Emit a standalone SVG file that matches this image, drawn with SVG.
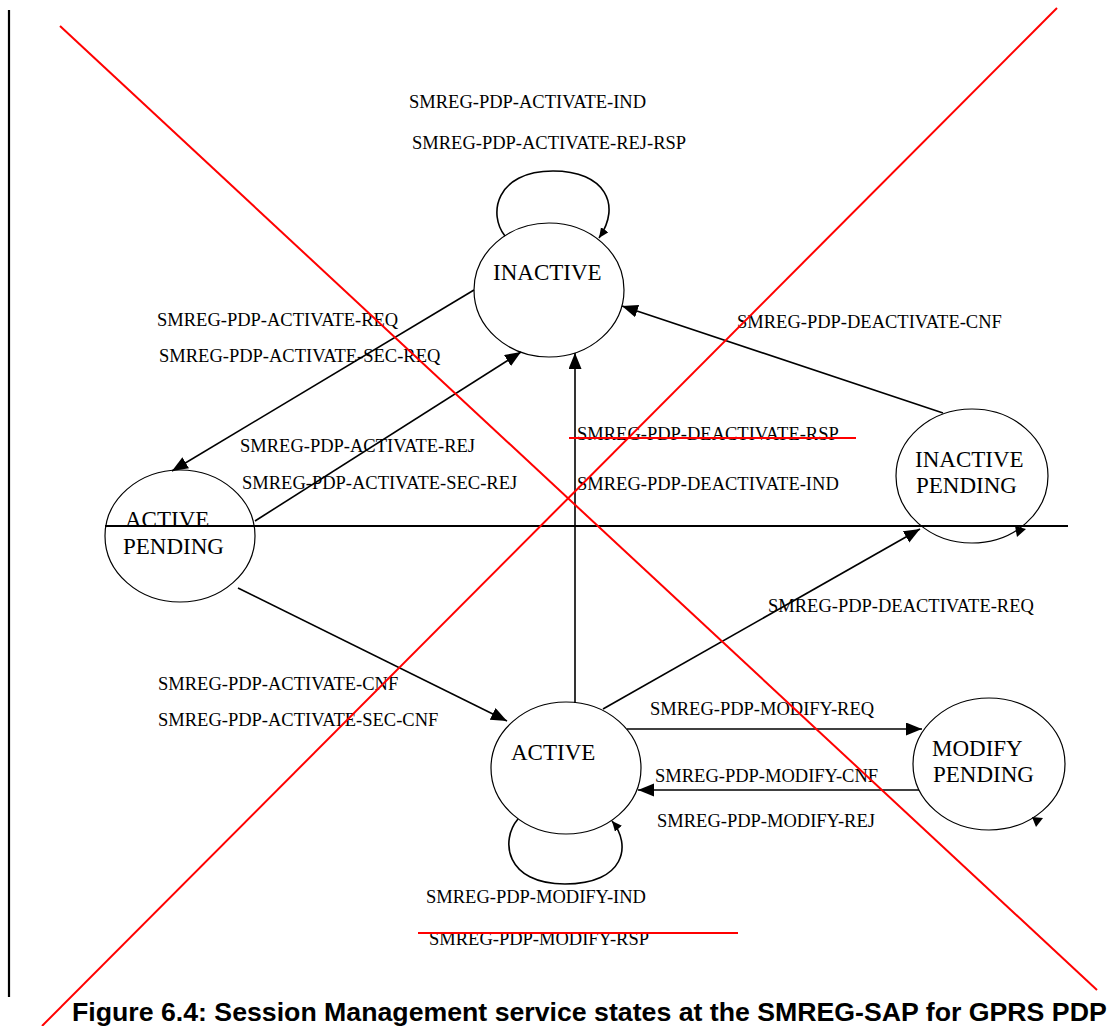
<svg xmlns="http://www.w3.org/2000/svg" width="1109" height="1026" viewBox="0 0 1109 1026">
<defs>
<style>
.st{fill:#fff;stroke:#000;stroke-width:1.2}
.sn{font-family:"Liberation Serif","Times New Roman",serif;font-size:23px;fill:#000}
.lb{font-family:"Liberation Serif","Times New Roman",serif;font-size:18.5px;fill:#000}
.cn{fill:none;stroke:#000;stroke-width:1.6}
.rd{stroke:#ff0000;stroke-width:2;fill:none}
.bk{stroke:#000;stroke-width:2.2;fill:none}
</style>
<marker id="ah" markerUnits="userSpaceOnUse" markerWidth="18" markerHeight="14" refX="16" refY="6.5" orient="auto">
<path d="M0,0 L16,6.5 L0,13 z" fill="#000"/>
</marker>
<marker id="ahs" markerUnits="userSpaceOnUse" markerWidth="12" markerHeight="10" refX="10" refY="4.5" orient="auto">
<path d="M0,0 L10,4.5 L0,9 z" fill="#000"/>
</marker>
</defs>
<rect width="1109" height="1026" fill="#fff"/>

<g id="node-inactive">
<ellipse class="st" cx="549" cy="290" rx="75" ry="67"/>
<text class="sn" x="493" y="280">INACTIVE</text>
</g>
<g id="node-active-pending">
<ellipse class="st" cx="180" cy="536" rx="75" ry="66"/>
<text class="sn" x="125" y="527">ACTIVE</text>
<text class="sn" x="123" y="554">PENDING</text>
</g>
<g id="node-inactive-pending">
<ellipse class="st" cx="972" cy="476" rx="76" ry="67"/>
<text class="sn" x="915" y="467">INACTIVE</text>
<text class="sn" x="916" y="493">PENDING</text>
</g>
<g id="node-active">
<ellipse class="st" cx="566" cy="768" rx="75" ry="66"/>
<text class="sn" x="511" y="760">ACTIVE</text>
</g>
<g id="node-modify-pending">
<ellipse class="st" cx="989" cy="764" rx="76" ry="66"/>
<text class="sn" x="932" y="756">MODIFY</text>
<text class="sn" x="933" y="782">PENDING</text>
</g>

<g id="connectors">
<path class="cn" d="M505,236 C488,215 495,171 553,171 C605,171 622,205 599,238" marker-end="url(#ahs)"/>
<line class="cn" x1="474" y1="290" x2="172" y2="471" marker-end="url(#ah)"/>
<line class="cn" x1="255" y1="521" x2="521" y2="352" marker-end="url(#ah)"/>
<line class="cn" x1="943" y1="413" x2="622" y2="306" marker-end="url(#ah)"/>
<line class="cn" x1="575" y1="703" x2="575" y2="353" marker-end="url(#ah)"/>
<line class="cn" x1="238" y1="588" x2="507" y2="721" marker-end="url(#ah)"/>
<line class="cn" x1="603" y1="709" x2="920" y2="529" marker-end="url(#ah)"/>
<line class="cn" x1="627" y1="729" x2="922" y2="729" marker-end="url(#ah)"/>
<line class="cn" x1="919" y1="790" x2="638" y2="790" marker-end="url(#ah)"/>
<path class="cn" d="M518,819 C500,840 505,884 565,884 C625,884 632,845 612,821" marker-end="url(#ahs)"/>
<polygon points="1015,526 1026,529 1017,537" fill="#000"/>
<polygon points="1032,817 1043,818 1036,827" fill="#000"/>
</g>

<g id="labels">
<text class="lb" x="409" y="108">SMREG-PDP-ACTIVATE-IND</text>
<text class="lb" x="412" y="149">SMREG-PDP-ACTIVATE-REJ-RSP</text>
<text class="lb" x="157" y="326">SMREG-PDP-ACTIVATE-REQ</text>
<text class="lb" x="159" y="362">SMREG-PDP-ACTIVATE-SEC-REQ</text>
<text class="lb" x="240" y="452">SMREG-PDP-ACTIVATE-REJ</text>
<text class="lb" x="242" y="489">SMREG-PDP-ACTIVATE-SEC-REJ</text>
<text class="lb" x="737" y="328">SMREG-PDP-DEACTIVATE-CNF</text>
<text class="lb" x="577" y="440">SMREG-PDP-DEACTIVATE-RSP</text>
<text class="lb" x="577" y="490">SMREG-PDP-DEACTIVATE-IND</text>
<text class="lb" x="768" y="612">SMREG-PDP-DEACTIVATE-REQ</text>
<text class="lb" x="158" y="690">SMREG-PDP-ACTIVATE-CNF</text>
<text class="lb" x="158" y="726">SMREG-PDP-ACTIVATE-SEC-CNF</text>
<text class="lb" x="650" y="715">SMREG-PDP-MODIFY-REQ</text>
<text class="lb" x="655" y="782">SMREG-PDP-MODIFY-CNF</text>
<text class="lb" x="657" y="827">SMREG-PDP-MODIFY-REJ</text>
<text class="lb" x="426" y="903">SMREG-PDP-MODIFY-IND</text>
<text class="lb" x="429" y="945">SMREG-PDP-MODIFY-RSP</text>
</g>

<line class="bk" x1="9" y1="10" x2="9" y2="997"/>
<line class="bk" x1="105" y1="526" x2="1068" y2="526"/>

<line class="rd" x1="569" y1="438" x2="856" y2="438"/>
<line class="rd" x1="418" y1="933" x2="738" y2="933"/>
<line class="rd" x1="60" y1="26" x2="1097" y2="990"/>
<line class="rd" x1="1057" y1="8" x2="42" y2="1026"/>

<text x="72" y="1021" font-family="'Liberation Sans',Arial,sans-serif" font-weight="bold" font-size="26.7" fill="#000">Figure 6.4: Session Management service states at the SMREG-SAP for GPRS PDP</text>
</svg>
